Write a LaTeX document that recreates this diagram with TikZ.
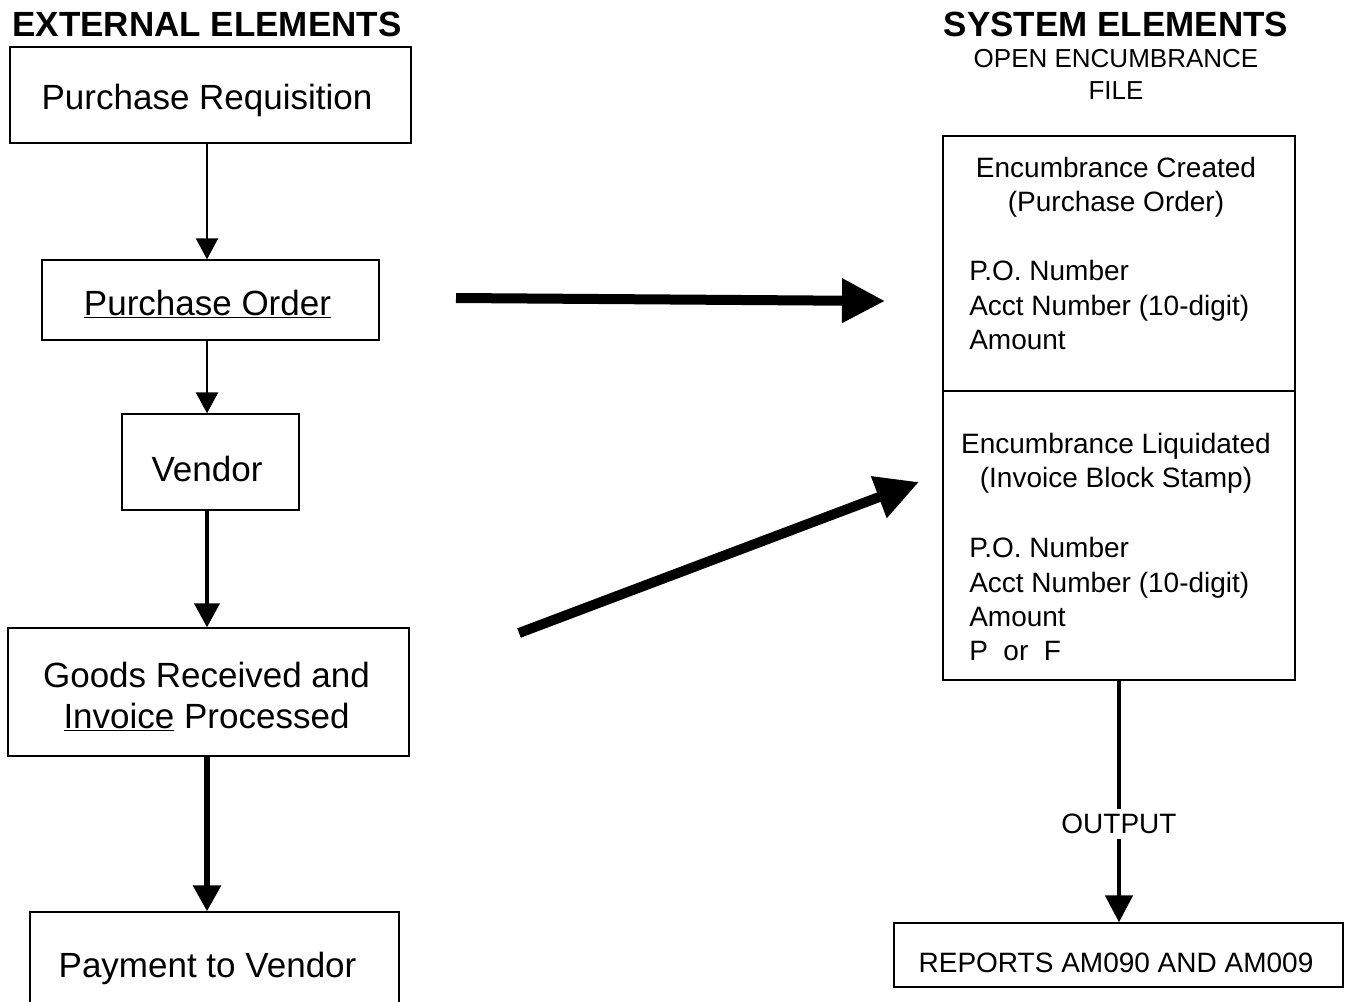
\documentclass[tikz,border=0pt]{standalone}
\usepackage{fontspec}
\setmainfont{Liberation Sans}
\usetikzlibrary{arrows.meta}

\begin{document}
\begin{tikzpicture}[x=0.75pt, y=-0.75pt,
  box/.style={draw, line width=1pt, inner sep=0pt},
  bigtxt/.style={anchor=base, inner sep=0pt, font=\fontsize{26.25}{30}\selectfont},
  headtxt/.style={anchor=base, inner sep=0pt, font=\fontsize{26.25}{30}\selectfont\bfseries},
  subtxt/.style={anchor=base, inner sep=0pt, font=\fontsize{19.5}{24}\selectfont},
  smalltxt/.style={anchor=base, inner sep=0pt, font=\fontsize{21}{25}\selectfont},
  bigarrow/.style={line width=7.5pt, -{Triangle[length=32.25pt, width=31.5pt]}},
  outarrow/.style={line width=3.5pt, -{Triangle[length=20.25pt, width=20.25pt]}}]
\useasboundingbox (0,0) rectangle (1348,1002);

% headings
\node[headtxt] (exthead) at (207,37) {EXTERNAL ELEMENTS};
\node[headtxt] (syshead) at (1116,37) {SYSTEM ELEMENTS};
\node[subtxt] (openenc) at (1116,68) {OPEN ENCUMBRANCE};
\node[subtxt] (encfile) at (1116,100) {FILE};

% external elements
\foreach \name/\x/\y/\w/\h in {preq/210.5/95/401/96, pord/210.5/300/337/80,
    vend/210.5/462/177/96, goods/208.5/692/401/128, pay/214.5/962/369/100} {
  \node[box, minimum width=\w*0.75pt, minimum height=\h*0.75pt] (\name) at (\x,\y) {};
}
\foreach \name/\x/\y/\t in {preqtxt/207/110/Purchase Requisition,
    pordtxt/207.5/315/\underline{Purchase Order}, vendtxt/207/481/Vendor,
    goodstxta/206.5/687/Goods Received and, goodstxtb/206.5/728/\underline{Invoice} Processed,
    paytxt/207.5/977/Payment to Vendor} {
  \node[bigtxt] (\name) at (\x,\y) {\t};
}
\foreach \a/\b/\w/\l/\s in {preq/pord/1.5pt/15.75pt/16.5pt, pord/vend/2pt/15.75pt/16.5pt,
    vend/goods/3pt/18pt/18.75pt, goods/pay/4.5pt/19.5pt/20.25pt} {
  \draw[line width=\w, -{Triangle[length=\l, width=\s]}] (\a.south -| exthead) -- (\b.north -| exthead);
}

% system elements
\node[box, minimum width=352*0.75pt, minimum height=255*0.75pt] (created) at (1119,263.5) {};
\node[box, minimum width=352*0.75pt, minimum height=289*0.75pt] (liquid) at (1119,535.5) {};
\node[box, minimum width=449*0.75pt, minimum height=64*0.75pt] (reports) at (1118.5,955) {};
\foreach \name/\y/\t in {crttl/177/Encumbrance Created, crsub/211/(Purchase Order),
    lqttl/453/Encumbrance Liquidated, lqsub/487/(Invoice Block Stamp),
    reptxt/972/REPORTS AM090 AND AM009} {
  \node[smalltxt] (\name) at (1116,\y) {\t};
}
\foreach \name/\y/\t in {crpo/280/P.O. Number, cracct/315/Acct Number (10-digit), cramt/349/Amount,
    lqpo/557/P.O. Number, lqacct/592/Acct Number (10-digit), lqamt/626/Amount, lqpf/660/P\ \ or\ \ F} {
  \node[smalltxt, anchor=base west] (\name) at (969,\y) {\t};
}

% transfers into the file
\coordinate (poout) at (456,298);
\coordinate (crin) at (885,301);
\coordinate (invout) at (519,633);
\coordinate (lqin) at (919,482);
\draw[bigarrow] (poout) -- (crin);
\draw[bigarrow] (invout) -- (lqin);

\draw[outarrow] (liquid.south) -- node[pos=0.593, fill=white, inner xsep=1pt, inner ysep=3.5pt,
    font=\fontsize{21}{25}\selectfont] (outlbl) {OUTPUT} (liquid.south |- reports.north);
\end{tikzpicture}
\end{document}
